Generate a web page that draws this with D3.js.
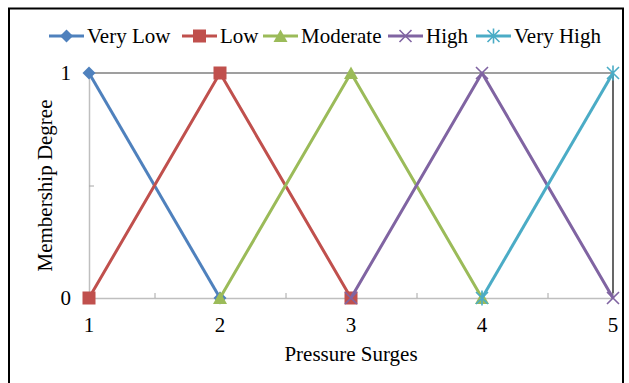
<!DOCTYPE html>
<html>
<head>
<meta charset="utf-8">
<script src="https://cdn.jsdelivr.net/npm/d3@7/dist/d3.min.js"></script>
<style>
  html, body { margin: 0; padding: 0; background: #fff; }
  svg { display: block; }
  text { font-family: "Liberation Serif", "Times New Roman", serif; fill: #000; }
</style>
</head>
<body>
<svg id="chart" width="629" height="383"></svg>
<script>
// Membership functions of the five pressure-surge levels
const seriesNames = ["Very Low", "Low", "Moderate", "High", "Very High"];
const seriesColors = ["#4F81BD", "#C0504D", "#9BBB59", "#8064A2", "#4BACC6"];
const seriesMarkers = ["diamond", "square", "triangle", "x", "star"];
const veryLowX = [1, 2],        veryLowY = [1, 0];
const lowX = [1, 2, 3],         lowY = [0, 1, 0];
const moderateX = [2, 3, 4],    moderateY = [0, 1, 0];
const highX = [3, 4, 5],        highY = [0, 1, 0];
const veryHighX = [4, 5],       veryHighY = [0, 1];
const xTickLabels = [1, 2, 3, 4, 5];
const yTickLabels = [0, 1];
const xMinorTicks = [1.5, 2.5, 3.5, 4.5];
const yMinorTicks = [0.5];
const xTitle = "Pressure Surges";
const yTitle = "Membership Degree";

const seriesX = [veryLowX, lowX, moderateX, highX, veryHighX];
const seriesY = [veryLowY, lowY, moderateY, highY, veryHighY];
const series = seriesNames.map((name, i) => ({
  name, color: seriesColors[i], marker: seriesMarkers[i],
  points: seriesX[i].map((x, j) => ({ x, y: seriesY[i][j] }))
}));

const FS = 21;
const svg = d3.select("#chart");

// outer frame
svg.append("rect")
  .attr("x", 9).attr("y", 8.5).attr("width", 614).attr("height", 390)
  .attr("fill", "none").attr("stroke", "#000").attr("stroke-width", 2);

const x = d3.scaleLinear().domain([1, 5]).range([89, 613]);
const y = d3.scaleLinear().domain([0, 1]).range([298, 73]);

// plot box: grey top edge, black right edge
svg.append("line").attr("x1", x(1)).attr("x2", x(5)).attr("y1", y(1)).attr("y2", y(1))
  .attr("stroke", "#7f7f7f").attr("stroke-width", 1.5);
svg.append("line").attr("x1", x(5)).attr("x2", x(5)).attr("y1", y(1)).attr("y2", y(0))
  .attr("stroke", "#000").attr("stroke-width", 1.2);

// axes
const xAxis = svg.append("g").attr("transform", `translate(0,${y(0)})`)
  .call(d3.axisBottom(x).tickValues(xMinorTicks).tickSize(-5).tickFormat(""));
const yAxis = svg.append("g").attr("transform", `translate(${x(1)},0)`)
  .call(d3.axisLeft(y).tickValues(yMinorTicks).tickSize(-5).tickFormat(""));
[xAxis, yAxis].forEach(g => {
  g.select(".domain").attr("stroke", "#bfbfbf").attr("stroke-width", 1.5);
  g.selectAll(".tick line").attr("stroke", "#a6a6a6").attr("stroke-width", 1);
});

// tick labels
svg.append("g").selectAll("text").data(xTickLabels).join("text")
  .attr("x", d => x(d)).attr("y", y(0) + 34)
  .attr("text-anchor", "middle").attr("font-size", FS).text(d => d);
svg.append("g").selectAll("text").data(yTickLabels).join("text")
  .attr("x", x(1) - 18).attr("y", d => y(d) + 7)
  .attr("text-anchor", "end").attr("font-size", FS).text(d => d);

// axis titles
svg.append("text").attr("x", (x(1) + x(5)) / 2).attr("y", 361)
  .attr("text-anchor", "middle").attr("font-size", FS).text(xTitle);
svg.append("text")
  .attr("transform", `translate(52,${(y(0) + y(1)) / 2}) rotate(-90)`)
  .attr("text-anchor", "middle").attr("font-size", FS).text(yTitle);

// marker drawing
function drawMarker(g, type, color) {
  if (type === "diamond") {
    g.append("path").attr("d", "M0,-6.5L6.5,0L0,6.5L-6.5,0Z").attr("fill", color);
  } else if (type === "square") {
    g.append("rect").attr("x", -6.5).attr("y", -6.5).attr("width", 13).attr("height", 13).attr("fill", color);
  } else if (type === "triangle") {
    g.append("path").attr("d", "M0,-6.5L7,6L-7,6Z").attr("fill", color);
  } else if (type === "x") {
    g.append("path").attr("d", "M-6,-6L6,6M-6,6L6,-6").attr("stroke", color).attr("stroke-width", 1.6);
  } else if (type === "star") {
    g.append("path").attr("d", "M-6,-6L6,6M-6,6L6,-6M0,-7.5L0,7.5").attr("stroke", color).attr("stroke-width", 1.6);
  }
}

const line = d3.line().x(d => x(d.x)).y(d => y(d.y));

series.forEach(s => {
  const g = svg.append("g");
  g.append("path").datum(s.points).attr("d", line)
    .attr("fill", "none").attr("stroke", s.color).attr("stroke-width", 3)
    .attr("stroke-linejoin", "round");
  g.selectAll("g.m").data(s.points).join("g").attr("class", "m")
    .attr("transform", d => `translate(${x(d.x)},${y(d.y)})`)
    .each(function () { drawMarker(d3.select(this), s.marker, s.color); });
});

// legend
const legendX = [49, 182, 263, 388, 476];
const legend = svg.append("g");
series.forEach((s, i) => {
  const g = legend.append("g").attr("transform", `translate(${legendX[i]},36)`);
  g.append("line").attr("x1", 0).attr("x2", 35).attr("stroke", s.color).attr("stroke-width", 3);
  const m = g.append("g").attr("transform", "translate(17.5,0)");
  drawMarker(m, s.marker, s.color);
  g.append("text").attr("x", 38).attr("y", 7).attr("font-size", FS).text(s.name);
});
</script>
</body>
</html>
